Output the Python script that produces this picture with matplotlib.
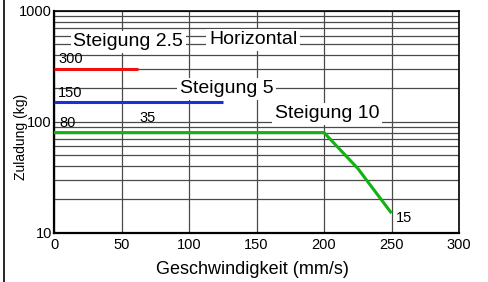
import numpy as np
import matplotlib
matplotlib.use("Agg")
import matplotlib.pyplot as plt
from matplotlib.ticker import FixedLocator, NullFormatter

plt.rcParams['font.family'] = ['Liberation Sans', 'DejaVu Sans']

# Daten (Geschwindigkeit in mm/s, Zuladung in kg)
v_25 = [0, 62.5]
m_25 = [300, 300]
v_5 = [0, 125]
m_5 = [150, 150]
v_10 = [0, 200, 225, 250]
m_10 = [80, 80, 38, 15]

x_ticks = [0, 50, 100, 150, 200, 250, 300]
y_ticks = [10, 100, 1000]
y_minor = [k * d for d in (10, 100) for k in range(2, 10)]

fig = plt.figure(figsize=(4.88, 2.82), dpi=100)
ax = fig.add_axes([0.1107, 0.1748, 0.8299, 0.7862])

ax.set_yscale('log')
ax.set_xlim(0, 300)
ax.set_ylim(10, 1000)

ax.xaxis.set_major_locator(FixedLocator(x_ticks))
ax.yaxis.set_major_locator(FixedLocator(y_ticks))
ax.yaxis.set_minor_locator(FixedLocator(y_minor))
ax.yaxis.set_minor_formatter(NullFormatter())
ax.set_yticklabels([str(t) for t in y_ticks])
ax.tick_params(which='both', length=0, labelsize=10.5, colors='black')
ax.tick_params(axis='x', pad=3.5)
ax.tick_params(axis='y', pad=1.5)

# Gitter
ax.grid(True, which='major', axis='both', color='#4a4a4a', linewidth=0.9, zorder=0)
ax.grid(True, which='minor', axis='y', color='#4a4a4a', linewidth=0.9, zorder=0)
ax.set_axisbelow(True)

for s in ['left', 'bottom']:
    ax.spines[s].set_linewidth(1.6)
for s in ['top', 'right']:
    ax.spines[s].set_linewidth(1.2)

# Kurven
ax.plot(v_25, m_25, color='#f01010', lw=2.2, solid_capstyle='butt', zorder=3)
ax.plot(v_5, m_5, color='#1a2fd8', lw=2.2, solid_capstyle='butt', zorder=3)
ax.plot(v_10, m_10, color='#10b410', lw=2.2, solid_capstyle='butt', zorder=3)

# Beschriftungen
box = dict(facecolor='white', edgecolor='none', pad=2)
ax.text(55, 526, 'Steigung 2.5', fontsize=14, ha='center', va='center', bbox=box, zorder=4)
ax.text(147.5, 550, 'Horizontal', fontsize=14, ha='center', va='center', bbox=box, zorder=4)
ax.text(128, 198, 'Steigung 5', fontsize=14, ha='center', va='center', bbox=box, zorder=4)
ax.text(202.5, 118, 'Steigung 10', fontsize=14, ha='center', va='center', bbox=box, zorder=4)

ax.text(12.4, 369, '300', fontsize=10.5, ha='center', va='center', zorder=5)
ax.text(12, 182, '150', fontsize=10.5, ha='center', va='center', zorder=5)
ax.text(10, 97.7, '80', fontsize=10.5, ha='center', va='center', zorder=5)
ax.text(69.6, 108, '35', fontsize=10.5, ha='center', va='center', zorder=5)
ax.text(259, 13.6, '15', fontsize=10.5, ha='center', va='center', zorder=5)

ax.set_xlabel('Geschwindigkeit (mm/s)', fontsize=13, va='center')
ax.xaxis.set_label_coords(0.489, -0.168)
ax.set_ylabel('Zuladung (kg)', fontsize=10, va='center')
ax.yaxis.set_label_coords(-0.0815, 0.43)

# linker Rahmen
fig.add_artist(plt.Line2D([3.5 / 488, 3.5 / 488], [0, 1], color='black', lw=1.2))

fig.savefig('out.png', dpi=100)
